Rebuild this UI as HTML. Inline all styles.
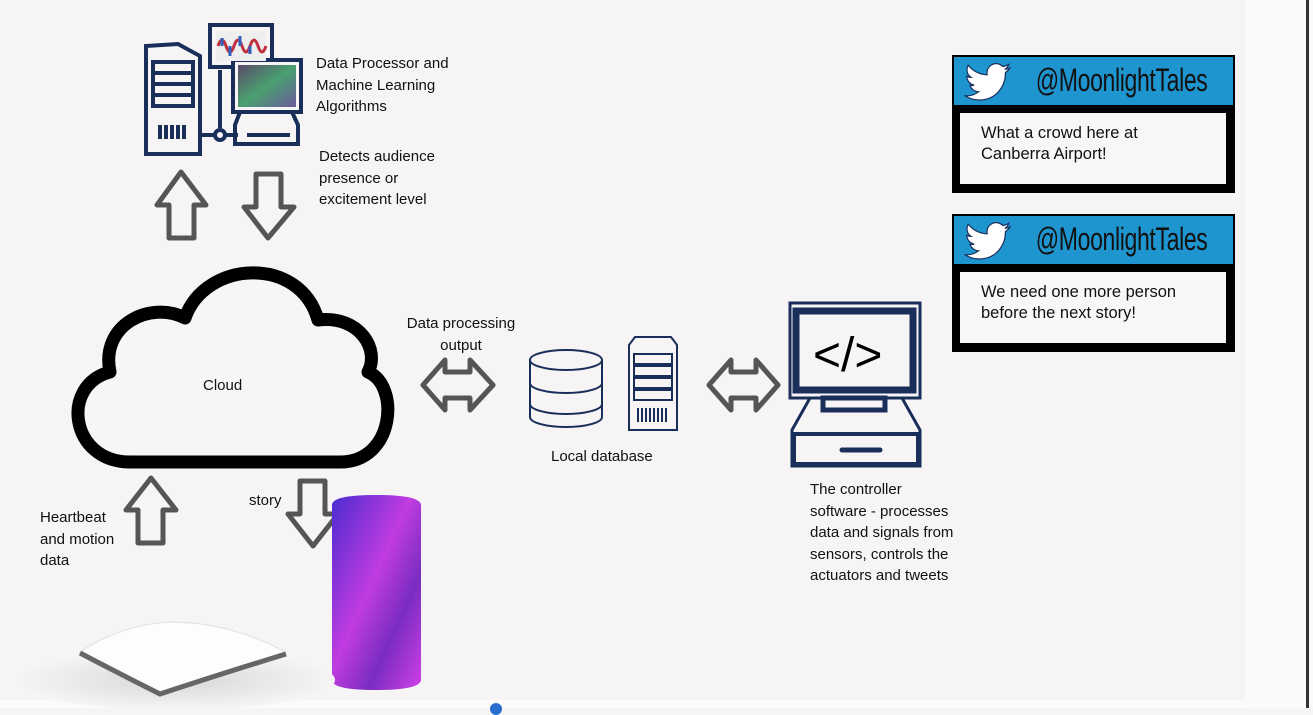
<!DOCTYPE html>
<html><head><style>
body{margin:0;width:1313px;height:708px;background:#f6f4f5;font-family:"Liberation Sans",sans-serif;position:relative;overflow:hidden}
.t{position:absolute;font-size:15px;line-height:21.5px;color:#111;white-space:nowrap}
.tw{position:absolute;left:952px;width:283px;height:138px;background:#000}
.tw .h{position:absolute;left:2px;top:2px;right:2px;height:48px;background:#1f95d0}
.tw .h span{position:absolute;right:26px;top:5px;font-size:32px;font-family:"Liberation Sans Narrow","Liberation Sans",sans-serif;transform:scaleX(.72);transform-origin:right;color:#111;letter-spacing:-0.5px}
.tw .b{position:absolute;left:8px;top:58px;width:266px;height:71px;background:#f8f6f8;font-size:16.5px;line-height:21px;padding:10px 0 0 21px;box-sizing:border-box;color:#111}
.tw svg{position:absolute;left:10px;top:6px}
</style></head><body>
<div style="position:absolute;left:1245px;top:0;width:68px;height:708px;background:#fafafa"></div>
<div style="position:absolute;left:1306px;top:0;width:3px;height:708px;background:#333"></div>
<div style="position:absolute;left:0;top:700px;width:1245px;height:8px;background:#fbfbfb"></div>
<div style="position:absolute;left:490px;top:703px;width:12px;height:12px;border-radius:50%;background:#2a6fd0"></div>

<svg width="1313" height="708" style="position:absolute;left:0;top:0">
<defs>
<linearGradient id="gal" x1="0" y1="0" x2="1" y2="1"><stop offset="0" stop-color="#4b2bd0"/><stop offset=".45" stop-color="#c03ce0"/><stop offset=".7" stop-color="#7a2cc0"/><stop offset="1" stop-color="#d040e8"/></linearGradient>
<linearGradient id="scr" x1="0" y1="0" x2="1" y2="1"><stop offset="0" stop-color="#5a4a6a"/><stop offset=".5" stop-color="#4aa070"/><stop offset="1" stop-color="#6a5a9a"/></linearGradient>
<radialGradient id="sh" cx=".5" cy=".5" r=".5"><stop offset="0" stop-color="#d8d6d7"/><stop offset="1" stop-color="#f6f4f5"/></radialGradient>
</defs>
<g fill="none" stroke="#1a2e5a" stroke-width="4">
<path d="M146 46 L178 44 L200 56 L200 154 L146 154 Z"/>
<rect x="153" y="62" width="40" height="44"/>
<line x1="153" y1="73" x2="193" y2="73"/><line x1="153" y1="84" x2="193" y2="84"/><line x1="153" y1="95" x2="193" y2="95"/>
<path d="M160 125v14M166 125v14M172 125v14M178 125v14M184 125v14"/>
<rect x="210" y="25" width="62" height="42"/>
<rect x="233" y="60" width="68" height="52" fill="#f6f4f5"/>
<path d="M200 135h15 M225 135h13 M220 70v58"/>
<circle cx="220" cy="135" r="5"/>
<path d="M240 112 L235 125 L235 144 L298 144 L298 125 L292 112"/>
<line x1="247" y1="135" x2="290" y2="135"/>
</g>
<rect x="238" y="65" width="58" height="42" fill="url(#scr)"/>
<rect x="216" y="31" width="50" height="30" fill="#eee"/>
<path d="M218 46 q4 -12 8 0 t8 0 t8 0 t8 0 t8 0 t8 0" stroke="#c03040" stroke-width="3" fill="none"/>
<path d="M222 46 v-8 M230 46 v10 M240 46 v-10 M250 46 v8" stroke="#3060c0" stroke-width="3"/>
<g fill="none" stroke="#555" stroke-width="5" stroke-linejoin="round">
<path d="M169 238 V205 H157 L181 172 L206 205 H194 V238 Z"/>
<path d="M256 174 V207 H244 L268 238 L294 207 H281 V174 Z"/>
<path d="M138 543 V510 H126 L151 478 L176 510 H163 V543 Z"/>
<path d="M300 481 V514 H288 L313 546 L338 514 H325 V481 Z"/>
<path d="M423 385 L445 360 V372 H470 V360 L493 385 L470 410 V398 H445 V410 Z"/>
<path d="M709 385 L731 360 V372 H756 V360 L778 385 L756 410 V398 H731 V410 Z"/>
</g>
<path d="M130 462 C70 462 60 385 110 372 C100 325 150 300 185 318 C205 260 300 255 318 320 C360 315 380 350 368 372 C400 385 395 462 340 462 Z" fill="#f7f5f6" stroke="#000" stroke-width="13" stroke-linejoin="round"/>
<g fill="none" stroke="#1a2e5a" stroke-width="2">
<path d="M530 360 V417 A36 10 0 0 0 602 417 V360"/>
<ellipse cx="566" cy="360" rx="36" ry="10"/>
<path d="M530 383 A36 10 0 0 0 602 383 M530 404 A36 10 0 0 0 602 404"/>
<path d="M629 345 L635 337 L671 337 L677 345 L677 430 L629 430 Z"/>
<rect x="634" y="354" width="38" height="10"/><rect x="634" y="366" width="38" height="10"/><rect x="634" y="378" width="38" height="10"/><rect x="634" y="390" width="38" height="10"/>
<path d="M638 408v14M642 408v14M646 408v14M650 408v14M654 408v14M658 408v14M662 408v14M666 408v14"/>
</g>
<g fill="none" stroke="#1a2e5a">
<rect x="790" y="303" width="130" height="95" stroke-width="3"/>
<rect x="796" y="311" width="117" height="79" stroke-width="7"/>
<path d="M810 398 L792 430 L792 466 L920 466 L920 430 L902 398" stroke-width="3"/>
<rect x="823" y="398" width="62" height="12" stroke-width="5"/>
<rect x="794" y="434" width="124" height="30" stroke-width="4"/>
<line x1="842" y1="450" x2="880" y2="450" stroke-width="5" stroke-linecap="round"/>
</g>
<text x="813" y="371" font-size="48" font-family="Liberation Sans" fill="#000">&lt;/&gt;</text>
<path d="M332 505 Q332 495 376 495 Q420 495 421 505 V680 Q420 690 376 690 Q332 690 332 680 Z" fill="url(#gal)"/>
<ellipse cx="175" cy="680" rx="160" ry="30" fill="url(#sh)"/>
<path d="M80 652 Q120 625 170 622 Q230 622 285 652 Q230 670 160 693 Q120 672 80 652 Z" fill="#fdfdfd" stroke="#e0e0e0"/>
<path d="M80 653 Q120 674 160 694 Q230 671 286 654" fill="none" stroke="#666" stroke-width="5"/>
</svg>

<div class="t" style="left:316px;top:53px">Data Processor and<br>Machine Learning<br>Algorithms</div>
<div class="t" style="left:319px;top:146px">Detects audience<br>presence or<br>excitement level</div>
<div class="t" style="left:203px;top:375px">Cloud</div>
<div class="t" style="left:398px;top:313px;text-align:center;width:126px">Data processing<br>output</div>
<div class="t" style="left:551px;top:446px">Local database</div>
<div class="t" style="left:40px;top:507px">Heartbeat<br>and motion<br>data</div>
<div class="t" style="left:249px;top:490px">story</div>
<div class="t" style="left:810px;top:479px">The controller<br>software - processes<br>data and signals from<br>sensors, controls the<br>actuators and tweets</div>

<div class="tw" style="top:55px"><div class="h"><svg width="48" height="40" viewBox="0 0 24 20"><path d="M23 2.5c-.8.4-1.7.6-2.6.7.9-.6 1.6-1.4 2-2.5-.9.5-1.9.9-2.9 1.1C18.6.9 17.4.3 16.1.3c-2.5 0-4.6 2-4.6 4.6 0 .4 0 .7.1 1C7.8 5.7 4.4 3.9 2.1 1.1c-.4.7-.6 1.5-.6 2.3 0 1.6.8 3 2 3.8-.7 0-1.4-.2-2.1-.6 0 2.2 1.6 4.1 3.7 4.5-.7.2-1.4.2-2.1.1.6 1.8 2.3 3.2 4.3 3.2-1.6 1.2-3.6 2-5.7 2H.5c2 1.3 4.5 2.1 7.1 2.1 8.5 0 13.1-7 13.1-13.1v-.6c.9-.6 1.7-1.4 2.3-2.3z" fill="#fff" stroke="#1a2e5a" stroke-width=".6"/></svg><span>@MoonlightTales</span></div><div class="b">What a crowd here at<br>Canberra Airport!</div></div>
<div class="tw" style="top:214px"><div class="h"><svg width="48" height="40" viewBox="0 0 24 20"><path d="M23 2.5c-.8.4-1.7.6-2.6.7.9-.6 1.6-1.4 2-2.5-.9.5-1.900.9-2.900 1.1C18.6.9 17.4.3 16.1.3c-2.5 0-4.6 2-4.6 4.6 0 .4 0 .7.1 1C7.8 5.7 4.4 3.900 2.1 1.1c-.4.7-.6 1.5-.6 2.3 0 1.6.8 3 2 3.8-.7 0-1.4-.2-2.1-.6 0 2.2 1.6 4.1 3.7 4.5-.7.2-1.4.2-2.1.1.6 1.8 2.3 3.2 4.3 3.2-1.6 1.2-3.6 2-5.7 2H.5c2 1.3 4.5 2.1 7.1 2.1 8.5 0 13.1-7 13.1-13.1v-.6c.9-.6 1.7-1.4 2.3-2.3z" fill="#fff" stroke="#1a2e5a" stroke-width=".6"/></svg><span>@MoonlightTales</span></div><div class="b">We need one more person<br>before the next story!</div></div>
</body></html>
